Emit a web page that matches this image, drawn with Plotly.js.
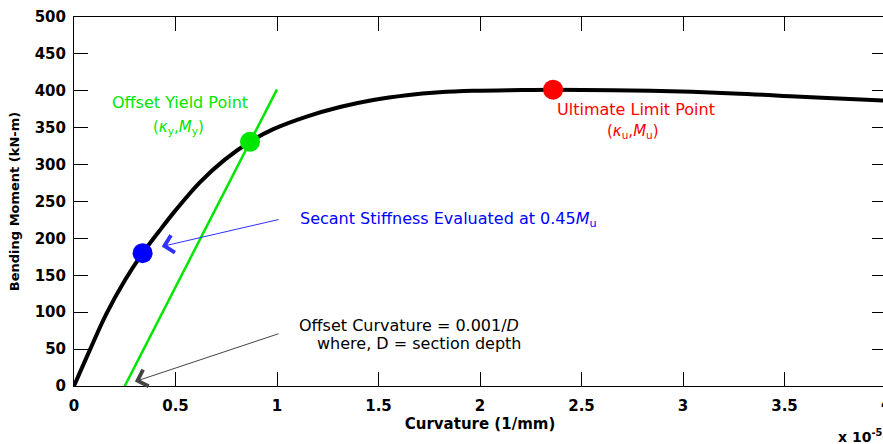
<!DOCTYPE html>
<html><head><meta charset="utf-8">
<script src="https://cdn.plot.ly/plotly-3.0.1.min.js"></script>
<style>html,body{margin:0;padding:0;overflow:hidden;background:#fff}</style>
</head><body><div id="chart" style="width:886px;height:444px"></div>
<script>
// Moment-curvature curve (curvature in 1e-5 1/mm, moment in kN-m)
const curvature = [0, 0.08, 0.16, 0.25, 0.338, 0.42, 0.5, 0.62, 0.74, 0.867, 0.982, 1.146, 1.31, 1.474, 1.639, 1.80, 1.967, 2.21, 2.36, 2.84, 3.25, 3.58, 3.93, 4.0];
const moment    = [0, 50, 98, 143, 180, 210, 238, 276, 306, 331, 348, 365, 378, 387.5, 394, 398, 400, 401, 401.5, 400, 396.5, 392, 387.5, 386.5];
// Offset line (offset curvature 0.001/D)
const offsetCurvature = [0.25, 1.0];
const offsetMoment = [0, 402];
// Key points
const secantX = [0.338], secantY = [180];
const yieldX = [0.867], yieldY = [331];
const ultimateX = [2.36], ultimateY = [401.5];
const xTicks = [0, 0.5, 1, 1.5, 2, 2.5, 3, 3.5, 4];
const yTicks = [0, 50, 100, 150, 200, 250, 300, 350, 400, 450, 500];

const F = 'DejaVu Sans, sans-serif';

const traces = [
  {x: offsetCurvature, y: offsetMoment, mode: 'lines', line: {color: '#00e600', width: 2.5}, hoverinfo: 'skip'},
  {x: curvature, y: moment, mode: 'lines', line: {color: '#000', width: 4, shape: 'spline', smoothing: 1}, hoverinfo: 'skip'},
  {x: secantX, y: secantY, mode: 'markers', marker: {color: '#0000ff', size: 20}},
  {x: yieldX, y: yieldY, mode: 'markers', marker: {color: '#00e600', size: 20}},
  {x: ultimateX, y: ultimateY, mode: 'markers', marker: {color: '#ff0000', size: 20}}
];

const axisCommon = {
  showline: true, linecolor: '#000', linewidth: 1, mirror: 'ticks',
  ticks: 'inside', ticklen: 14, tickcolor: '#000', tickwidth: 1,
  showgrid: false, zeroline: false,
  tickfont: {family: F, size: 15, color: '#000', weight: 700}
};

const layout = {
  width: 886, height: 444,
  margin: {l: 74, r: 0, t: 17, b: 58},
  paper_bgcolor: '#fff', plot_bgcolor: '#fff',
  showlegend: false,
  xaxis: Object.assign({}, axisCommon, {
    range: [0, 4], tickvals: xTicks, ticktext: xTicks.map(v => '<b>' + v + '</b>'), ticklabelstandoff: 6,
    title: {text: 'Curvature (1/mm)', font: {family: F, size: 15, color: '#000', weight: 'bold'}, standoff: 4}
  }),
  yaxis: Object.assign({}, axisCommon, {
    range: [0, 500], tickvals: yTicks, ticktext: yTicks.map(v => '<b>' + v + '</b>'), ticklabelstandoff: 4,
    title: {text: 'Bending Moment (kN-m)', font: {family: F, size: 13, color: '#000', weight: 'bold'}, standoff: 12}
  }),
  annotations: [
    {x: 0.522, y: 383.5, text: 'Offset Yield Point', showarrow: false, font: {family: F, size: 16, color: '#00e600'}},
    {x: 0.515, y: 350.5, text: '(<i>κ</i><sub>y</sub>,<i>M</i><sub>y</sub>)', showarrow: false, font: {family: F, size: 15, color: '#00e600'}},
    {x: 2.766, y: 374, text: 'Ultimate Limit Point', showarrow: false, font: {family: F, size: 16, color: '#ff0000'}},
    {x: 2.755, y: 345.5, text: '(<i>κ</i><sub>u</sub>,<i>M</i><sub>u</sub>)', showarrow: false, font: {family: F, size: 15, color: '#ff0000'}},
    {x: 1.103, y: 226, xanchor: 'left', text: 'Secant Stiffness Evaluated at 0.45<i>M</i><sub>u</sub>', showarrow: false, font: {family: F, size: 16, color: '#0000ff'}},
    {x: 1.097, y: 82.6, xanchor: 'left', text: 'Offset Curvature = 0.001/<i>D</i>', showarrow: false, font: {family: F, size: 16, color: '#000'}},
    {x: 1.187, y: 57.8, xanchor: 'left', text: 'where, D = section depth', showarrow: false, font: {family: F, size: 16, color: '#000'}},
    {x: 0.432, y: 189, ax: 1.015, ay: 226, axref: 'x', ayref: 'y', text: '', showarrow: true, arrowhead: 4, arrowsize: 3.4, arrowwidth: 1, arrowcolor: '#3030ff'},
    {x: 0.30, y: 6, ax: 1.015, ay: 71.5, axref: 'x', ayref: 'y', text: '', showarrow: true, arrowhead: 4, arrowsize: 3.4, arrowwidth: 1, arrowcolor: '#444'},
    {xref: 'paper', yref: 'paper', x: 1.0, y: -0.05, xanchor: 'center', yanchor: 'middle', text: '<b>4</b>', showarrow: false, font: {family: F, size: 15, color: '#000'}},
    {xref: 'paper', yref: 'paper', x: 0.938, y: -0.135, xanchor: 'left', yanchor: 'middle', text: 'x 10<sup>-5</sup>', showarrow: false, font: {family: F, size: 14, color: '#000', weight: 'bold'}}
  ]
};

Plotly.newPlot('chart', traces, layout, {displayModeBar: false, staticPlot: true});
</script>
</body></html>
